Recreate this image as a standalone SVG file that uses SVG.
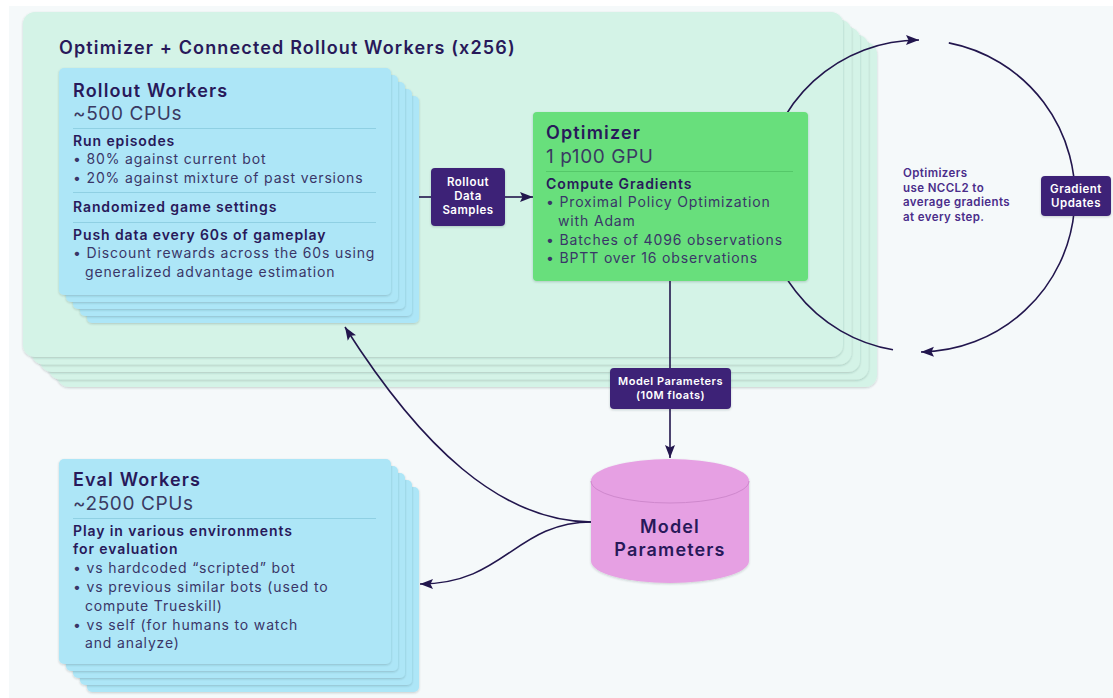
<svg xmlns="http://www.w3.org/2000/svg" width="1113" height="698" viewBox="0 0 1113 698">
  <defs>
    <filter id="shadow" x="-5%" y="-5%" width="110%" height="115%">
      <feDropShadow dx="0" dy="1" stdDeviation="1.3" flood-color="#1d2f3a" flood-opacity="0.22"/>
    </filter>
    <marker id="arrow" markerUnits="userSpaceOnUse" markerWidth="14" markerHeight="11" refX="13" refY="5.5" orient="auto">
      <path d="M0,0.5 L13,5.5 L0,10.5 L2.5,5.5 Z" fill="#22164d"/>
    </marker>
    <style>
      text { font-family: Inter, "Noto Sans", "Liberation Sans", sans-serif; }
      .container { fill: #d4f3e7; filter: url(#shadow); }
      .blue { fill: #ade6f7; filter: url(#shadow); }
      .green { fill: #67df7b; filter: url(#shadow); }
      .tag { fill: #3e2477; filter: url(#shadow); }
      .tag-text { fill: #ffffff; font-size: 11.5px; font-weight: 600; text-anchor: middle; letter-spacing: 0.5px; }
      .title { fill: #28195a; font-size: 18px; font-weight: 600; letter-spacing: 1.15px; }
      .sub { fill: #3a3a62; font-size: 19px; font-weight: 400; letter-spacing: 0.6px; }
      .head { fill: #28195a; font-size: 14px; font-weight: 600; letter-spacing: 0.9px; }
      .body { fill: #3a3668; font-size: 14px; font-weight: 400; letter-spacing: 0.85px; }
      .sep-blue { stroke: #8fd0e3; stroke-width: 1; }
      .sep-green { stroke: #55c869; stroke-width: 1; }
      .link { fill: none; stroke: #22164d; stroke-width: 1.6; }
      .note { fill: #4a2d8a; font-size: 11.5px; font-weight: 600; letter-spacing: 0.4px; }
    </style>
  </defs>

  <!-- page -->
  <rect x="0" y="0" width="1113" height="698" fill="#ffffff"/>
  <rect x="9" y="6" width="1104" height="692" fill="#f5f9fa"/>

  <!-- stacked group holding the optimizer and its rollout workers -->
  <g id="optimizer-cluster">
    <rect class="container" x="57" y="42" width="820" height="345" rx="12"/>
    <rect class="container" x="48.5" y="34.5" width="820" height="345" rx="12"/>
    <rect class="container" x="40" y="27" width="820" height="345" rx="12"/>
    <rect class="container" x="31.5" y="19.5" width="820" height="345" rx="12"/>
    <rect class="container" x="23" y="12" width="820" height="345" rx="12"/>
    <text class="title" x="59" y="54">Optimizer + Connected Rollout Workers (x256)</text>
  </g>

  <!-- connectors -->
  <g id="connectors">
    <!-- gradient all-reduce ring -->
    <path class="link" d="M 948.8 42.9 A 156 156 0 0 1 921 352" marker-end="url(#arrow)"/>
    <path class="link" d="M 893 349.8 A 156 156 0 0 1 919 40" marker-end="url(#arrow)"/>
    <!-- rollout samples into optimizer -->
    <path class="link" d="M 400 197 H 432"/>
    <path class="link" d="M 505 197 H 533" marker-end="url(#arrow)"/>
    <!-- parameters out of optimizer -->
    <path class="link" d="M 670 281 V 458" marker-end="url(#arrow)"/>
    <!-- parameters distributed to workers -->
    <path class="link" d="M 592 522 C 500 522, 420 445, 345 327" marker-end="url(#arrow)"/>
    <path class="link" d="M 592 522 C 515 522, 505 584, 420 584" marker-end="url(#arrow)"/>
  </g>

  <g id="rollout-workers">
    <rect class="blue" x="87" y="96" width="332" height="227" rx="5"/>
    <rect class="blue" x="80" y="89" width="332" height="227" rx="5"/>
    <rect class="blue" x="73" y="82" width="332" height="227" rx="5"/>
    <rect class="blue" x="66" y="75" width="332" height="227" rx="5"/>
    <rect class="blue" x="59" y="68" width="332" height="227" rx="5"/>
    <text class="title" x="73" y="97">Rollout Workers</text>
    <text class="sub" x="73" y="120">~500 CPUs</text>
    <line class="sep-blue" x1="73" y1="128.5" x2="376" y2="128.5"/>
    <text class="head" x="73" y="146">Run episodes</text>
    <text class="body" x="73" y="164">• 80% against current bot</text>
    <text class="body" x="73" y="183">• 20% against mixture of past versions</text>
    <line class="sep-blue" x1="73" y1="192.5" x2="376" y2="192.5"/>
    <text class="head" x="73" y="212">Randomized game settings</text>
    <line class="sep-blue" x1="73" y1="222.5" x2="376" y2="222.5"/>
    <text class="head" x="73" y="240">Push data every 60s of gameplay</text>
    <text class="body" x="73" y="258">• Discount rewards across the 60s using</text>
    <text class="body" x="85" y="277">generalized advantage estimation</text>
  </g>

  <g id="rollout-data-samples">
    <rect class="tag" x="431" y="168" width="74" height="58" rx="4"/>
    <text class="tag-text" x="468" y="186">Rollout</text>
    <text class="tag-text" x="468" y="200">Data</text>
    <text class="tag-text" x="468" y="214">Samples</text>
  </g>

  <g id="optimizer">
    <rect class="green" x="533" y="112" width="275" height="169" rx="4"/>
    <text class="title" x="546" y="139">Optimizer</text>
    <text class="sub" x="546" y="163">1 p100 GPU</text>
    <line class="sep-green" x1="546" y1="171.5" x2="793" y2="171.5"/>
    <text class="head" x="546" y="189">Compute Gradients</text>
    <text class="body" x="546" y="207">• Proximal Policy Optimization</text>
    <text class="body" x="558" y="226">with Adam</text>
    <text class="body" x="546" y="245">• Batches of 4096 observations</text>
    <text class="body" x="546" y="263">• BPTT over 16 observations</text>
  </g>

  <g id="nccl-note">
    <text class="note" x="903" y="177">Optimizers</text>
    <text class="note" x="903" y="192">use NCCL2 to</text>
    <text class="note" x="903" y="206">average gradients</text>
    <text class="note" x="903" y="221">at every step.</text>
  </g>

  <g id="gradient-updates">
    <rect class="tag" x="1041" y="176" width="70" height="40" rx="4"/>
    <text class="tag-text" x="1076" y="193">Gradient</text>
    <text class="tag-text" x="1076" y="207">Updates</text>
  </g>

  <g id="model-parameters-label">
    <rect class="tag" x="610" y="368" width="121" height="41" rx="4"/>
    <text class="tag-text" x="670.5" y="385" style="font-size:11px">Model Parameters</text>
    <text class="tag-text" x="670.5" y="399" style="font-size:11px">(10M floats)</text>
  </g>

  <g id="model-parameters-store">
    <path d="M 591 481 V 561 A 79 22 0 0 0 749 561 V 481 A 79 22 0 0 0 591 481 Z" fill="#e6a0e3" filter="url(#shadow)"/>
    <path d="M 591 481 A 79 22 0 0 0 749 481" fill="none" stroke="#cf88cd" stroke-width="1"/>
    <text class="title" x="670" y="533" text-anchor="middle">Model</text>
    <text class="title" x="670" y="556" text-anchor="middle">Parameters</text>
  </g>

  <g id="eval-workers">
    <rect class="blue" x="87" y="487" width="332" height="205" rx="5"/>
    <rect class="blue" x="80" y="480" width="332" height="205" rx="5"/>
    <rect class="blue" x="73" y="473" width="332" height="205" rx="5"/>
    <rect class="blue" x="66" y="466" width="332" height="205" rx="5"/>
    <rect class="blue" x="59" y="459" width="332" height="205" rx="5"/>
    <text class="title" x="73" y="486">Eval Workers</text>
    <text class="sub" x="73" y="510">~2500 CPUs</text>
    <line class="sep-blue" x1="73" y1="518.5" x2="376" y2="518.5"/>
    <text class="head" x="73" y="536">Play in various environments</text>
    <text class="head" x="73" y="554">for evaluation</text>
    <text class="body" x="73" y="573">• vs hardcoded “scripted” bot</text>
    <text class="body" x="73" y="592">• vs previous similar bots (used to</text>
    <text class="body" x="85" y="611">compute Trueskill)</text>
    <text class="body" x="73" y="630">• vs self (for humans to watch</text>
    <text class="body" x="85" y="648">and analyze)</text>
  </g>
</svg>
